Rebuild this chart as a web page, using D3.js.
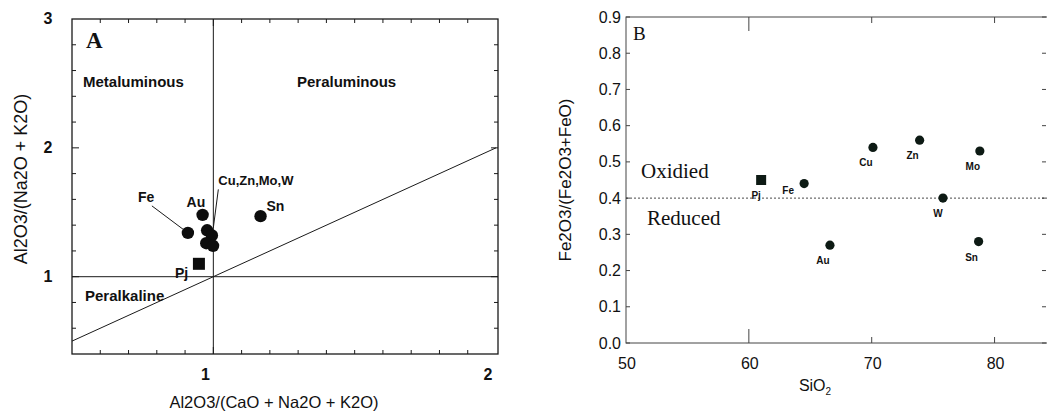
<!DOCTYPE html>
<html>
<head>
<meta charset="utf-8">
<script src="https://cdn.jsdelivr.net/npm/d3@7"></script>
<style>
  body { margin: 0; background: #fff; }
  svg { display: block; }
  text { font-family: "Liberation Sans", Arial, sans-serif; fill: #111; }
  .serif { font-family: "Liberation Serif", "Times New Roman", serif; }
</style>
</head>
<body>
<script>
// Panel A: Shand's index (A/CNK vs A/NK)
var aNames = ["Fe", "Au", "Cu", "Zn", "Mo", "W", "Sn", "Pj"];
var aACNK  = [0.91, 0.962, 0.978, 0.995, 0.975, 0.999, 1.167, 0.949];
var aANK   = [1.34, 1.48, 1.36, 1.32, 1.26, 1.24, 1.47, 1.10];
var aXTicks = [1, 2];
var aYTicks = [1, 2, 3];

// Panel B: Fe2O3/(Fe2O3+FeO) vs SiO2
var bNames = ["Pj", "Fe", "Au", "Cu", "Zn", "Mo", "W", "Sn"];
var bSiO2  = [61.0, 64.5, 66.6, 70.1, 73.9, 78.8, 75.8, 78.7];
var bRatio = [0.45, 0.44, 0.27, 0.54, 0.56, 0.53, 0.40, 0.28];
var bXTicks = [50, 60, 70, 80];
var bYTicks = [0, 0.1, 0.2, 0.3, 0.4, 0.5, 0.6, 0.7, 0.8, 0.9];

var svg = d3.select("body").append("svg")
  .attr("width", 1047)
  .attr("height", 412);

var ink = "#1a1a1a";

// ---------- Panel A ----------
var xA = d3.scaleLinear().domain([0.5, 2.0]).range([72, 496]);
var yA = d3.scaleLinear().domain([0.4, 3.0]).range([354, 19]);

var gA = svg.append("g");

gA.append("rect")
  .attr("x", xA(0.5)).attr("y", yA(3))
  .attr("width", xA(2.0) - xA(0.5) + 2)
  .attr("height", yA(0.4) - yA(3))
  .attr("fill", "none").attr("stroke", ink).attr("stroke-width", 1.3);

// inner ticks, all four sides
d3.range(0.6, 1.95, 0.1).forEach(function(v) {
  var len = Math.abs(v - Math.round(v)) < 0.01 ? 7 : 4;
  gA.append("line").attr("x1", xA(v)).attr("x2", xA(v))
    .attr("y1", yA(0.4)).attr("y2", yA(0.4) - len).attr("stroke", ink);
  gA.append("line").attr("x1", xA(v)).attr("x2", xA(v))
    .attr("y1", yA(3)).attr("y2", yA(3) + len).attr("stroke", ink);
});
d3.range(0.6, 2.91, 0.2).forEach(function(v) {
  var len = Math.abs(v - Math.round(v)) < 0.01 ? 7 : 4;
  gA.append("line").attr("x1", xA(0.5)).attr("x2", xA(0.5) + len)
    .attr("y1", yA(v)).attr("y2", yA(v)).attr("stroke", ink);
  gA.append("line").attr("x1", xA(2.0) + 2).attr("x2", xA(2.0) + 2 - len)
    .attr("y1", yA(v)).attr("y2", yA(v)).attr("stroke", ink);
});

// tick labels
gA.selectAll(".xt").data(aXTicks).enter().append("text")
  .attr("x", function(d) { return xA(d) - 8; })
  .attr("y", 380)
  .attr("text-anchor", "middle")
  .attr("font-size", 16).attr("font-weight", "bold")
  .text(function(d) { return d; });
gA.selectAll(".yt").data(aYTicks).enter().append("text")
  .attr("x", 48)
  .attr("y", function(d) { return yA(d) + 5; })
  .attr("text-anchor", "middle")
  .attr("font-size", 16).attr("font-weight", "bold")
  .text(function(d) { return d; });

// division lines
gA.append("line").attr("x1", xA(1)).attr("x2", xA(1))
  .attr("y1", yA(3)).attr("y2", yA(0.4)).attr("stroke", ink);
gA.append("line").attr("x1", xA(0.5)).attr("x2", xA(2.0) + 2)
  .attr("y1", yA(1)).attr("y2", yA(1)).attr("stroke", ink);
gA.append("line").attr("x1", xA(0.5)).attr("y1", yA(0.5))
  .attr("x2", xA(2.0)).attr("y2", yA(2.0)).attr("stroke", ink);

// field names
gA.append("text").attr("x", 83).attr("y", 87).attr("font-size", 15).attr("font-weight", "bold").text("Metaluminous");
gA.append("text").attr("x", 297).attr("y", 87).attr("font-size", 15).attr("font-weight", "bold").text("Peraluminous");
gA.append("text").attr("x", 85).attr("y", 301).attr("font-size", 15).attr("font-weight", "bold").text("Peralkaline");
gA.append("text").attr("class", "serif").attr("x", 86).attr("y", 48)
  .attr("font-size", 23).attr("font-weight", "bold").text("A");

// points
var aPts = aNames.map(function(n, i) { return {name: n, x: aACNK[i], y: aANK[i]}; });
gA.selectAll(".ca").data(aPts.filter(function(d) { return d.name !== "Pj"; }))
  .enter().append("circle")
  .attr("cx", function(d) { return xA(d.x); })
  .attr("cy", function(d) { return yA(d.y); })
  .attr("r", 6.2).attr("fill", "#0d0d0d");
gA.selectAll(".sa").data(aPts.filter(function(d) { return d.name === "Pj"; }))
  .enter().append("rect")
  .attr("x", function(d) { return xA(d.x) - 6; })
  .attr("y", function(d) { return yA(d.y) - 6; })
  .attr("width", 12).attr("height", 12).attr("fill", "#0d0d0d");

// labels and leader lines
var fe = aPts[0], au = aPts[1], sn = aPts[6], pj = aPts[7];
gA.append("text").attr("x", xA(fe.x) - 50).attr("y", yA(fe.y) - 31).attr("font-size", 14).attr("font-weight", "bold").text("Fe");
gA.append("line").attr("x1", xA(fe.x) - 36).attr("y1", yA(fe.y) - 27)
  .attr("x2", xA(fe.x) - 4).attr("y2", yA(fe.y) - 3).attr("stroke", ink);
gA.append("text").attr("x", xA(au.x) - 16).attr("y", yA(au.y) - 8).attr("font-size", 14).attr("font-weight", "bold").text("Au");
gA.append("text").attr("x", xA(sn.x) + 6).attr("y", yA(sn.y) - 5).attr("font-size", 14).attr("font-weight", "bold").text("Sn");
gA.append("text").attr("x", xA(pj.x) - 24).attr("y", yA(pj.y) + 14).attr("font-size", 14).attr("font-weight", "bold").text("Pj");
gA.append("text").attr("x", xA(1) + 5).attr("y", yA(1.6) - 14).attr("font-size", 13).attr("font-weight", "bold").text("Cu,Zn,Mo,W");
gA.append("line").attr("x1", xA(1) + 5).attr("y1", yA(1.6) - 10)
  .attr("x2", xA(1)).attr("y2", yA(1.38)).attr("stroke", ink);

// axis titles
gA.append("text").attr("x", 274).attr("y", 408).attr("text-anchor", "middle")
  .attr("font-size", 16.5).text("Al2O3/(CaO + Na2O + K2O)");
gA.append("text").attr("transform", "translate(27,179) rotate(-90)")
  .attr("text-anchor", "middle").attr("font-size", 18).text("Al2O3/(Na2O + K2O)");

// ---------- Panel B ----------
var xB = d3.scaleLinear().domain([50, 85]).range([626, 1056]);
var yB = d3.scaleLinear().domain([0, 0.9]).range([343, 17]);
var gB = svg.append("g");
var frameB = "#444";

gB.append("rect")
  .attr("x", xB(50)).attr("y", yB(0.9))
  .attr("width", 424).attr("height", yB(0) - yB(0.9))
  .attr("fill", "none").attr("stroke", frameB).attr("stroke-width", 1);

bYTicks.forEach(function(v) {
  gB.append("line").attr("x1", xB(50)).attr("x2", xB(50) + 4)
    .attr("y1", yB(v)).attr("y2", yB(v)).attr("stroke", frameB);
  gB.append("line").attr("x1", 1046).attr("x2", 1042)
    .attr("y1", yB(v)).attr("y2", yB(v)).attr("stroke", frameB);
});
bXTicks.slice(1).forEach(function(v) {
  gB.append("line").attr("x1", xB(v)).attr("x2", xB(v))
    .attr("y1", yB(0)).attr("y2", yB(0) - (v === 60 ? 14 : 6)).attr("stroke", frameB);
  gB.append("line").attr("x1", xB(v)).attr("x2", xB(v))
    .attr("y1", yB(0.9)).attr("y2", yB(0.9) + (v === 60 ? 14 : 6)).attr("stroke", frameB);
});

gB.selectAll(".xt").data(bXTicks).enter().append("text")
  .attr("x", function(d) { return xB(d) + 1; })
  .attr("y", 369)
  .attr("text-anchor", "middle").attr("font-size", 16)
  .text(function(d) { return d; });
gB.selectAll(".yt").data(bYTicks).enter().append("text")
  .attr("x", 621)
  .attr("y", function(d) { return yB(d) + 5.5; })
  .attr("text-anchor", "end").attr("font-size", 16)
  .text(function(d) { return d.toFixed(1); });

// oxidised / reduced boundary
gB.append("line").attr("x1", xB(50)).attr("x2", 1047)
  .attr("y1", yB(0.4)).attr("y2", yB(0.4))
  .attr("stroke", ink).attr("stroke-width", 0.8).attr("stroke-dasharray", "2,2");

gB.append("text").attr("class", "serif").attr("x", 641).attr("y", 178).attr("font-size", 21).text("Oxidied");
gB.append("text").attr("class", "serif").attr("x", 647).attr("y", 225).attr("font-size", 21).text("Reduced");
gB.append("text").attr("class", "serif").attr("x", 633).attr("y", 40).attr("font-size", 19).text("B");

var bPts = bNames.map(function(n, i) { return {name: n, x: bSiO2[i], y: bRatio[i]}; });
gB.selectAll(".cb").data(bPts.filter(function(d) { return d.name !== "Pj"; }))
  .enter().append("circle")
  .attr("cx", function(d) { return xB(d.x); })
  .attr("cy", function(d) { return yB(d.y); })
  .attr("r", 4.6).attr("fill", "#0d1a14");
gB.selectAll(".sb").data(bPts.filter(function(d) { return d.name === "Pj"; }))
  .enter().append("rect")
  .attr("x", function(d) { return xB(d.x) - 5; })
  .attr("y", function(d) { return yB(d.y) - 5; })
  .attr("width", 10).attr("height", 10).attr("fill", "#0d1a14");

gB.selectAll(".lb").data(bPts).enter().append("text")
  .attr("x", function(d) { return xB(d.x) + (d.name === "Fe" ? -16 : d.name === "W" ? -5 : d.name === "Pj" ? -5 : -7); })
  .attr("y", function(d) { return yB(d.y) + (d.name === "Fe" ? 10 : 19); })
  .attr("text-anchor", "middle")
  .attr("font-size", 10).attr("font-weight", "bold")
  .text(function(d) { return d.name; });

gB.append("text").attr("x", 815).attr("y", 391).attr("text-anchor", "middle").attr("font-size", 16)
  .text("SiO").append("tspan").attr("font-size", 10).attr("dy", 4).text("2");
gB.append("text").attr("transform", "translate(571,180) rotate(-90)")
  .attr("text-anchor", "middle").attr("font-size", 17).text("Fe2O3/(Fe2O3+FeO)");
</script>
</body>
</html>
